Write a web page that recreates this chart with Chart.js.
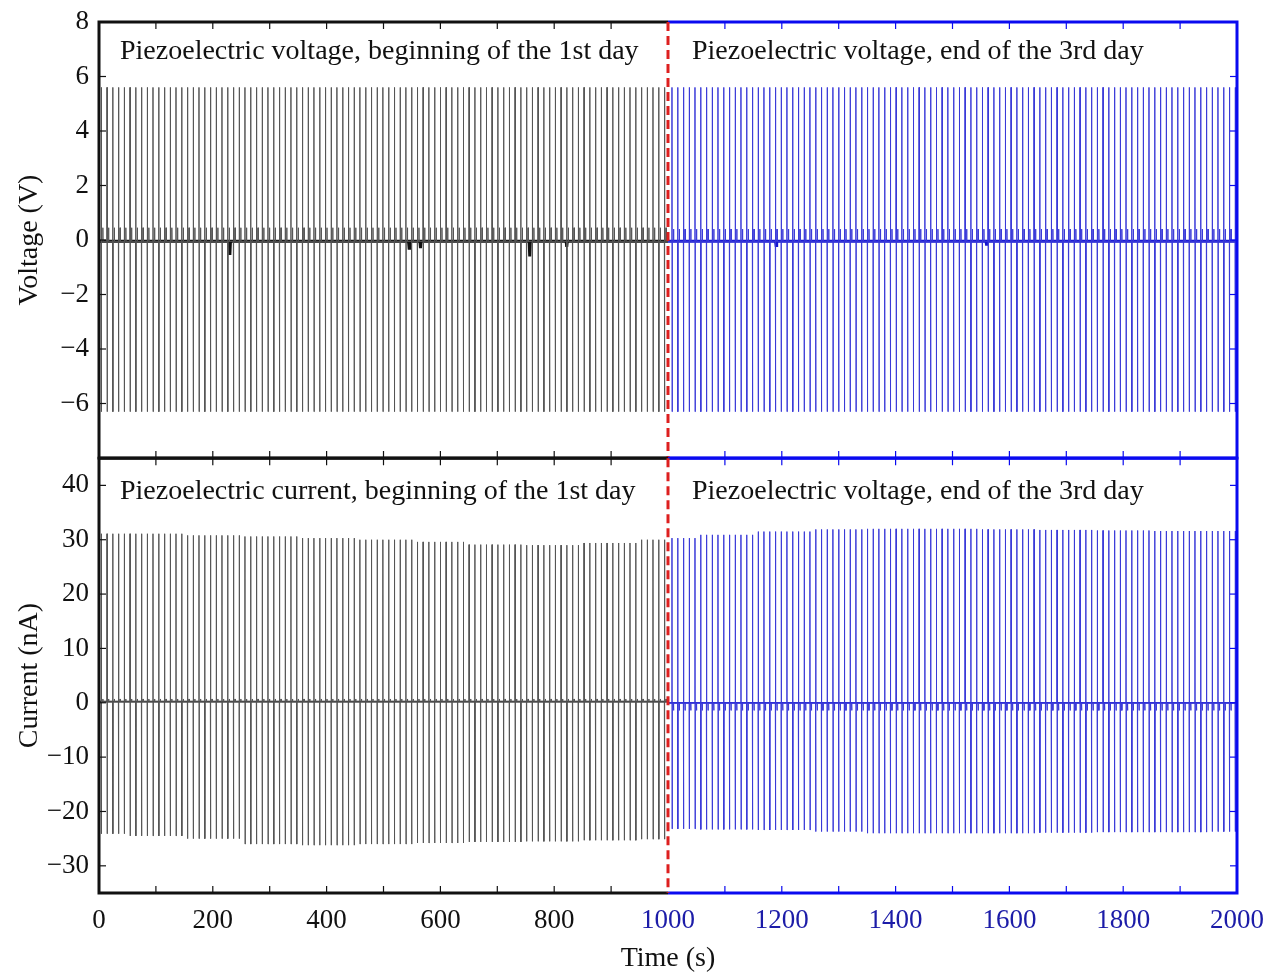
<!DOCTYPE html>
<html>
<head>
<meta charset="utf-8">
<title>Piezoelectric output</title>
<script src="https://cdn.jsdelivr.net/npm/chart.js@4.4.1/dist/chart.umd.min.js"></script>
<style>
  html, body { margin: 0; padding: 0; background: #fff; }
  #wrap { position: relative; width: 1270px; height: 975px; }
  canvas { position: absolute; left: 0; }
  #voltageChart { top: 0; }
  #currentChart { top: 440px; }
</style>
</head>
<body>
<div id="wrap">
  <canvas id="voltageChart" width="1270" height="478"></canvas>
  <canvas id="currentChart" width="1270" height="535"></canvas>
</div>
<script>
// pulse train timing (s)
const runStarts = [0, 1000];
const firstPulse = [4, 1007];
const pulsePeriod = 10.1;
const pulsesPerRun = 99;
const envelopeStep = 100;

// voltage pulse extremes (V), one value per 100 s
const voltPeakDay1 = [5.6, 5.6, 5.6, 5.6, 5.6, 5.6, 5.6, 5.6, 5.6, 5.6, 5.6];
const voltTroughDay1 = [-6.3, -6.3, -6.3, -6.3, -6.3, -6.3, -6.3, -6.3, -6.3, -6.3, -6.3];
const voltPeakDay3 = [5.6, 5.6, 5.6, 5.6, 5.6, 5.6, 5.6, 5.6, 5.6, 5.6, 5.6];
const voltTroughDay3 = [-6.3, -6.3, -6.3, -6.3, -6.3, -6.3, -6.3, -6.3, -6.3, -6.3, -6.3];
const voltRest = [-0.05, -0.05];
const voltRebound = [0.45, 0.4];
// dips in the voltage baseline
const voltDipTimes = [230, 545, 565, 757, 822, 1190, 1560];
const voltDipValues = [-0.55, -0.3, -0.3, -0.6, -0.25, -0.2, -0.2];

// current pulse extremes (nA), one value per 100 s
const currPeakDay1 = [31.1, 31.1, 30.8, 30.6, 30.3, 30.0, 29.6, 29.1, 29.0, 29.4, 30.0];
const currTroughDay1 = [-24.1, -24.5, -25.0, -26.0, -26.2, -26.0, -25.8, -25.6, -25.5, -25.3, -25.1];
const currPeakDay3 = [30.3, 30.9, 31.5, 31.9, 32.0, 32.0, 31.9, 31.8, 31.7, 31.6, 31.6];
const currTroughDay3 = [-23.2, -23.3, -23.4, -23.7, -24.0, -24.0, -24.0, -23.9, -23.8, -23.8, -23.7];
const currRest = [0.2, 0.0];
const currRebound = [0.7, -1.4];

// axis ticks
const voltTicks = [-6, -4, -2, 0, 2, 4, 6, 8];
const currTicks = [-30, -20, -10, 0, 10, 20, 30, 40];
const timeTicks = [0, 100, 200, 300, 400, 500, 600, 700, 800, 900, 1000,
  1100, 1200, 1300, 1400, 1500, 1600, 1700, 1800, 1900, 2000];

const panelLabels = {
  voltage: ['Piezoelectric voltage, beginning of the 1st day', 'Piezoelectric voltage, end of the 3rd day'],
  current: ['Piezoelectric current, beginning of the 1st day', 'Piezoelectric voltage, end of the 3rd day']
};

const BLACK = '#111111';
const BLUE = '#0a0af0';
const BLUE_TEXT = '#1c1ca8';
const SERIF = '"Liberation Serif", "Times New Roman", serif';

// thin trace: rest level with one vertical pulse and a small rebound per period
function pulseTrace(run, peaks, troughs, rest, rebound) {
  const start = runStarts[run];
  const pts = [{ x: start, y: rest }];
  for (let k = 0; k < pulsesPerRun; k++) {
    const t = firstPulse[run] + k * pulsePeriod;
    const i = Math.round((t - start) / envelopeStep);
    pts.push({ x: t - 0.2, y: rest });
    pts.push({ x: t, y: peaks[i] });
    pts.push({ x: t + 0.3, y: troughs[i] });
    pts.push({ x: t + 0.6, y: rest });
    pts.push({ x: t + 2.5, y: rest });
    pts.push({ x: t + 2.8, y: rebound });
    pts.push({ x: t + 3.1, y: rest });
  }
  pts.push({ x: start + 1000, y: rest });
  return pts;
}

// thick baseline with the occasional dip
function baseline(run, rest, dipTimes, dipValues) {
  const start = runStarts[run];
  const pts = [{ x: start, y: rest }];
  dipTimes.forEach((t, i) => {
    if (t < start || t >= start + 1000) return;
    pts.push({ x: t - 1, y: rest }, { x: t, y: dipValues[i] }, { x: t + 1, y: rest });
  });
  pts.push({ x: start + 1000, y: rest });
  return pts;
}

function lineSet(data, color, width) {
  return { data, borderColor: color, borderWidth: width, pointRadius: 0, tension: 0, fill: false };
}

function minus(v) {
  return String(v).replace('-', '\u2212');
}

function sideColor(v) {
  return v >= 1000 ? BLUE : BLACK;
}

// box, inward tick marks, dashed split line and panel captions
function panelFrame(opts) {
  return {
    id: 'panelFrame',
    afterDatasetsDraw(chart) {
      const { ctx, chartArea: a, scales } = chart;
      const xs = scales.x, ys = scales.y;
      const split = xs.getPixelForValue(1000);
      const tl = 7;
      ctx.save();

      // tick marks
      ctx.lineWidth = 1.2;
      timeTicks.forEach(v => {
        if (v === 0 || v === 2000 || v === 1000) return;
        const px = xs.getPixelForValue(v);
        ctx.strokeStyle = sideColor(v);
        ctx.beginPath();
        ctx.moveTo(px, a.top); ctx.lineTo(px, a.top + tl);
        ctx.moveTo(px, a.bottom); ctx.lineTo(px, a.bottom - tl);
        ctx.stroke();
      });
      opts.yTicks.forEach(v => {
        const py = ys.getPixelForValue(v);
        ctx.strokeStyle = BLACK;
        ctx.beginPath(); ctx.moveTo(a.left, py); ctx.lineTo(a.left + tl, py); ctx.stroke();
        ctx.strokeStyle = BLUE;
        ctx.beginPath(); ctx.moveTo(a.right, py); ctx.lineTo(a.right - tl, py); ctx.stroke();
      });

      // box: left half black, right half blue
      ctx.lineWidth = 3;
      ctx.strokeStyle = BLACK;
      ctx.beginPath();
      ctx.moveTo(split, a.top); ctx.lineTo(a.left, a.top);
      ctx.lineTo(a.left, a.bottom); ctx.lineTo(split, a.bottom);
      ctx.stroke();
      ctx.strokeStyle = BLUE;
      ctx.beginPath();
      ctx.moveTo(split, a.top); ctx.lineTo(a.right, a.top);
      ctx.lineTo(a.right, a.bottom); ctx.lineTo(split, a.bottom);
      ctx.stroke();

      // split between the two recordings
      ctx.strokeStyle = '#dd1f1f';
      ctx.lineWidth = 3;
      ctx.setLineDash([9, 5]);
      ctx.beginPath();
      ctx.moveTo(split, a.top); ctx.lineTo(split, a.bottom);
      ctx.stroke();
      ctx.setLineDash([]);

      // captions
      ctx.fillStyle = BLACK;
      ctx.font = '28px ' + SERIF;
      ctx.textBaseline = 'alphabetic';
      ctx.textAlign = 'left';
      ctx.fillText(opts.labels[0], a.left + 21, a.top + opts.captionY);
      ctx.fillText(opts.labels[1], split + 24, a.top + opts.captionY);
      ctx.restore();
    }
  };
}

// tick offset comes from tickLength so the label padding stays small
function yAxis(min, max, ticks, title, titlePad) {
  return {
    type: 'linear',
    min, max,
    afterBuildTicks(s) { s.ticks = ticks.map(v => ({ value: v })); },
    afterFit(s) { s.width = 99; },
    grid: { display: false, drawTicks: true, tickLength: 8 },
    border: { display: false },
    ticks: {
      padding: 2,
      color: BLACK,
      font: { family: SERIF, size: 27 },
      callback: v => minus(v)
    },
    title: {
      display: true,
      text: title,
      color: BLACK,
      font: { family: SERIF, size: 28 },
      padding: { top: titlePad, bottom: 0 }
    }
  };
}

const commonOptions = {
  responsive: false,
  animation: false,
  events: [],
  plugins: { legend: { display: false }, tooltip: { enabled: false } }
};

new Chart(document.getElementById('voltageChart'), {
  type: 'line',
  data: {
    datasets: [
      lineSet(pulseTrace(0, voltPeakDay1, voltTroughDay1, voltRest[0], voltRebound[0]), '#555555', 1),
      lineSet(pulseTrace(1, voltPeakDay3, voltTroughDay3, voltRest[1], voltRebound[1]), '#3a3ad8', 1),
      lineSet(baseline(0, voltRest[0], voltDipTimes, voltDipValues), BLACK, 3),
      lineSet(baseline(1, voltRest[1], voltDipTimes, voltDipValues), '#1414d0', 3)
    ]
  },
  options: {
    ...commonOptions,
    layout: { padding: { top: 22, right: 33, bottom: 20, left: 0 } },
    scales: {
      x: { type: 'linear', min: 0, max: 2000, display: false },
      y: yAxis(-8, 8, voltTicks, 'Voltage (V)', 13)
    }
  },
  plugins: [panelFrame({ yTicks: voltTicks, labels: panelLabels.voltage, captionY: 37 })]
});

new Chart(document.getElementById('currentChart'), {
  type: 'line',
  data: {
    datasets: [
      lineSet(pulseTrace(0, currPeakDay1, currTroughDay1, currRest[0], currRebound[0]), '#555555', 1),
      lineSet(pulseTrace(1, currPeakDay3, currTroughDay3, currRest[1], currRebound[1]), '#3a3ad8', 1),
      lineSet(baseline(0, currRest[0], [], []), BLACK, 1.8),
      lineSet(baseline(1, currRest[1], [], []), '#1414d0', 1.8)
    ]
  },
  options: {
    ...commonOptions,
    layout: { padding: { top: 18, right: 33, bottom: 0, left: 0 } },
    scales: {
      x: {
        type: 'linear',
        min: 0, max: 2000,
        afterBuildTicks(s) { s.ticks = timeTicks.map(v => ({ value: v })); },
        afterFit(s) { s.height = 82; },
        grid: { display: false, drawTicks: true, tickLength: 12 },
        border: { display: false },
        ticks: {
          padding: 0,
          maxRotation: 0,
          autoSkip: false,
          font: { family: SERIF, size: 27 },
          color: c => (c.tick && c.tick.value >= 1000 ? BLUE_TEXT : BLACK),
          callback: v => (v % 200 === 0 ? String(v) : '')
        },
        title: {
          display: true,
          text: 'Time (s)',
          color: BLACK,
          font: { family: SERIF, size: 28 },
          padding: { top: 0, bottom: 0 }
        }
      },
      y: yAxis(-35, 45, currTicks, 'Current (nA)', 13)
    }
  },
  plugins: [panelFrame({ yTicks: currTicks, labels: panelLabels.current, captionY: 41 })]
});
</script>
</body>
</html>
